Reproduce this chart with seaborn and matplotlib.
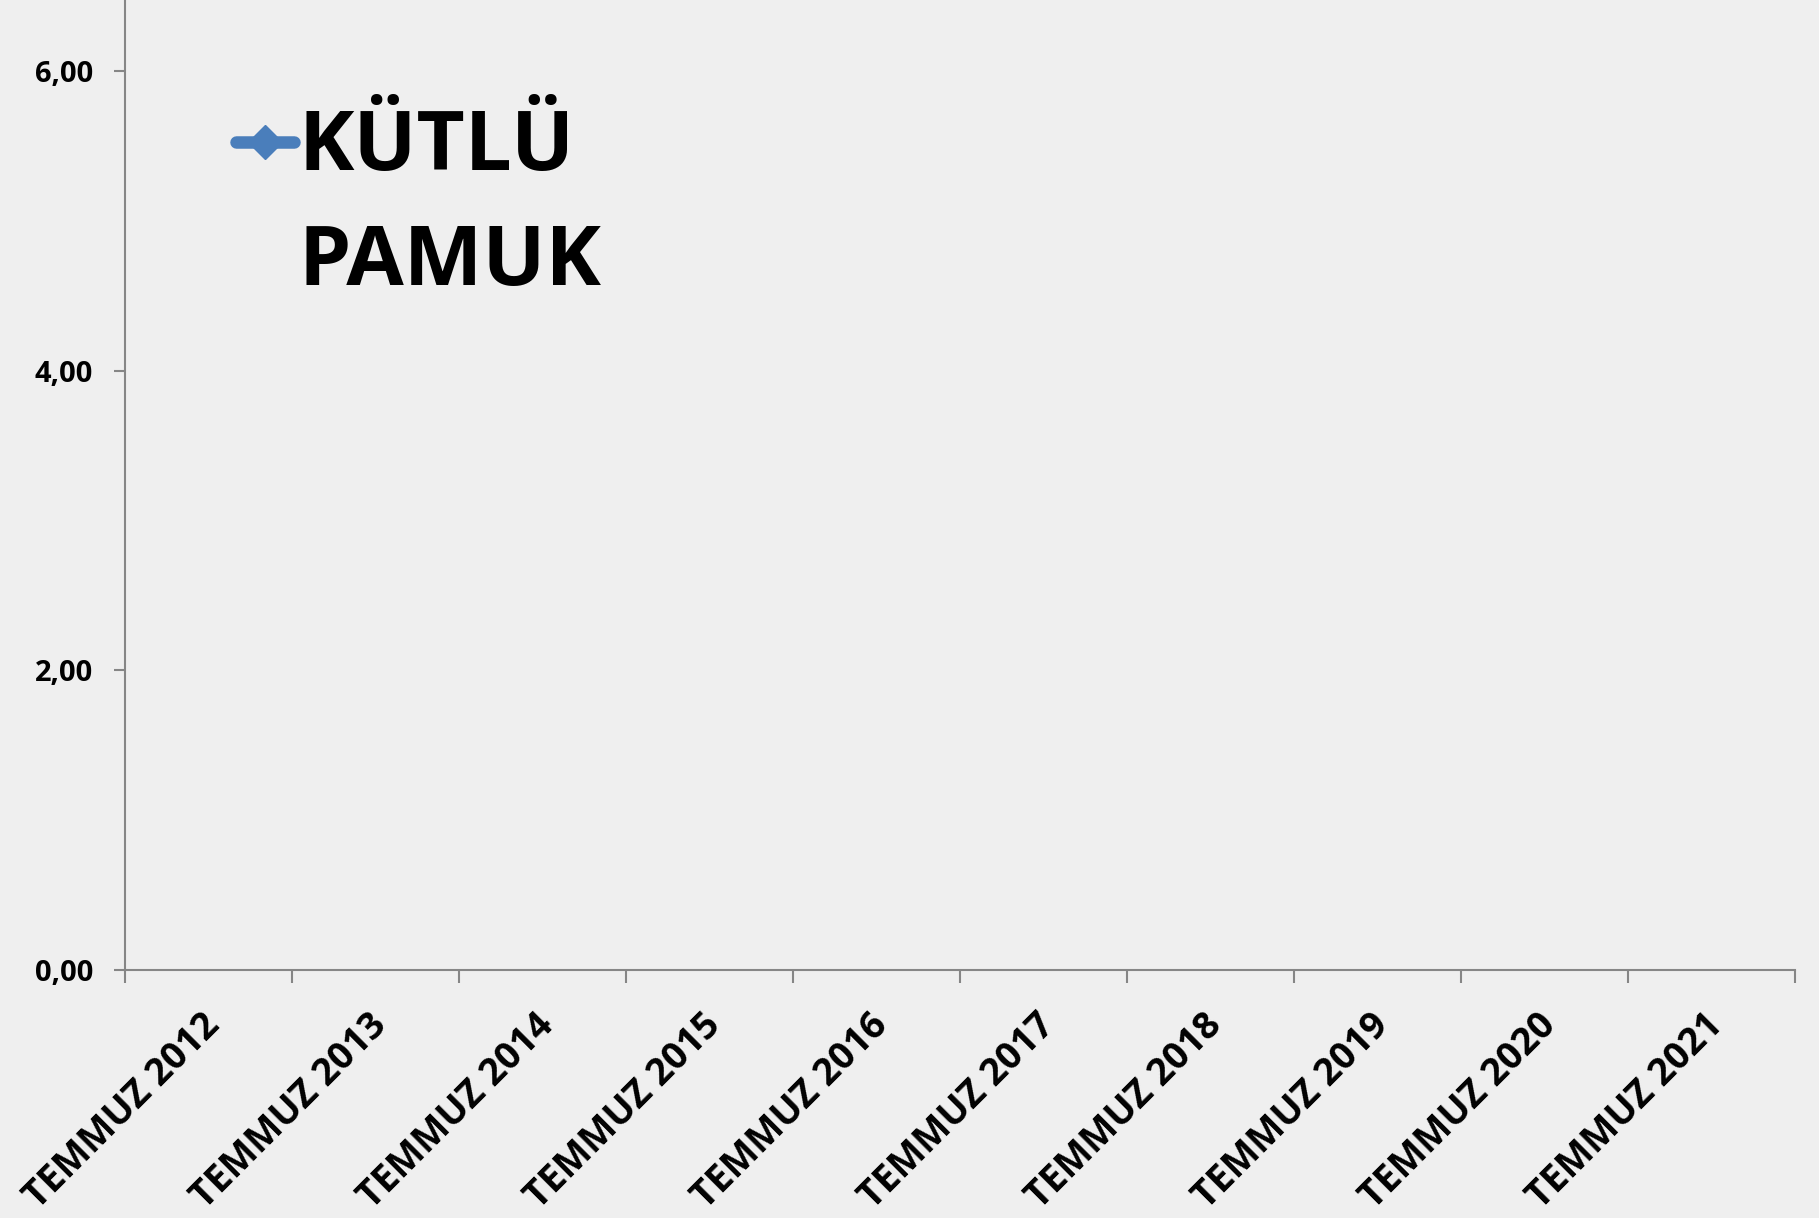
import numpy as np
import pandas as pd
import matplotlib
matplotlib.use("Agg")
import matplotlib.pyplot as plt
import matplotlib.transforms as mtransforms
from matplotlib.lines import Line2D
import seaborn as sns

# Chart content
categories = ["TEMMUZ 2012", "TEMMUZ 2013", "TEMMUZ 2014", "TEMMUZ 2015",
              "TEMMUZ 2016", "TEMMUZ 2017", "TEMMUZ 2018", "TEMMUZ 2019",
              "TEMMUZ 2020", "TEMMUZ 2021"]
# no values were recorded for the series
kutlu_pamuk = [np.nan] * len(categories)
series_name = "KÜTLÜ\nPAMUK"
y_ticks = [0, 2, 4, 6]
y_tick_labels = ["0,00", "2,00", "4,00", "6,00"]

sns.set_theme(style="white")
plt.rcParams["font.family"] = ["Open Sans", "DejaVu Sans"]
plt.rcParams["font.weight"] = "bold"
plt.rcParams["text.color"] = "black"

W, H, DPI = 1819, 1218, 100
fig = plt.figure(figsize=(W / DPI, H / DPI), dpi=DPI)
bg = "#efefef"
fig.patch.set_facecolor(bg)
ax = fig.add_axes([125 / W, 1 - 970 / H, (1795 - 125) / W, 970 / H])
ax.set_facecolor(bg)

line_color = "#4a7ebb"
axis_color = "#868686"

df = pd.DataFrame({"pos": np.arange(len(categories), dtype=float),
                   "value": kutlu_pamuk})
sns.lineplot(data=df, x="pos", y="value", marker="D", color=line_color,
             linewidth=8, markersize=17, ax=ax, legend=False)

ax.set_xlim(-0.5, len(categories) - 0.5)
ax.set_ylim(0, 6 + 71 / ((970 - 71) / 6))
ax.set_xlabel("")
ax.set_ylabel("")

# y axis
ax.set_yticks(y_ticks)
ax.set_yticklabels(y_tick_labels, fontsize=21, fontweight="bold", color="black")
ax.tick_params(axis="y", direction="out", length=8, width=1.5,
               color=axis_color, pad=15, left=True)

# x axis: boundary ticks between categories, labels at category centres
ax.set_xticks(np.arange(-0.5, len(categories)), minor=False)
ax.set_xticklabels([""] * (len(categories) + 1))
ax.set_xticks(np.arange(len(categories)), minor=True)
ax.set_xticklabels(categories, minor=True, fontsize=27, fontweight="bold",
                   color="black", rotation=45, ha="right", va="top",
                   rotation_mode="anchor")
ax.tick_params(axis="x", which="major", direction="out", length=9.5,
               width=1.5, color=axis_color, bottom=True)
ax.tick_params(axis="x", which="minor", length=0, pad=26, bottom=True)
offset = mtransforms.ScaledTranslation(-8 / DPI, 0, fig.dpi_scale_trans)
for lbl in ax.get_xticklabels(minor=True):
    lbl.set_transform(lbl.get_transform() + offset)

for side in ["top", "right"]:
    ax.spines[side].set_visible(False)
for side in ["left", "bottom"]:
    ax.spines[side].set_color(axis_color)
    ax.spines[side].set_linewidth(1.5)
ax.grid(False)

# legend
handle = Line2D([], [], color=line_color, linewidth=9, marker="D",
                markersize=17, solid_capstyle="round")
leg = ax.legend([handle], [series_name], loc="upper left",
                bbox_to_anchor=(236 / W, 1 - 107 / H),
                bbox_transform=fig.transFigure, frameon=False,
                prop={"size": 60, "weight": "bold"}, handlelength=0.7,
                handleheight=1.13, handletextpad=0.05, borderpad=0,
                borderaxespad=0)
for t in leg.get_texts():
    t.set_linespacing(1.5)
    t.set_color("black")
# put the key beside the first line of the label
row = leg._legend_handle_box.get_children()[0].get_children()[0]
row.align = "top"

fig.savefig("out.png", dpi=DPI, facecolor=bg)
